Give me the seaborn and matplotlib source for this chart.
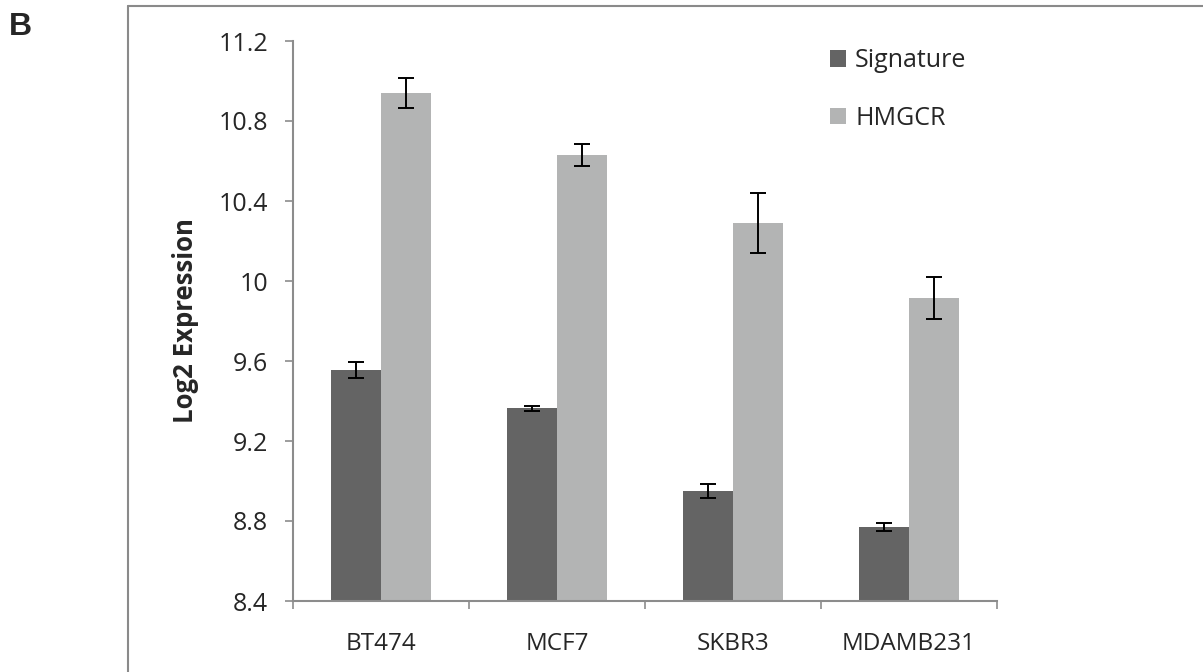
import matplotlib
matplotlib.use("Agg")
import matplotlib.pyplot as plt
import seaborn as sns
import pandas as pd
from matplotlib.lines import Line2D
from matplotlib.patches import Patch

cell_lines = ["BT474", "MCF7", "SKBR3", "MDAMB231"]
signature = [9.555, 9.364, 8.950, 8.770]
signature_err = [0.038, 0.013, 0.035, 0.020]
hmgcr = [10.940, 10.630, 10.290, 9.915]
hmgcr_err = [0.075, 0.053, 0.150, 0.105]
series = ["Signature", "HMGCR"]
yticks = [8.4, 8.8, 9.2, 9.6, 10.0, 10.4, 10.8, 11.2]
ytick_labels = ["8.4", "8.8", "9.2", "9.6", "10", "10.4", "10.8", "11.2"]

colors = {"Signature": "#646464", "HMGCR": "#b3b4b4"}
axis_grey = "#8c8c8c"

df = pd.DataFrame({
    "Cell line": cell_lines * 2,
    "Series": ["Signature"] * 4 + ["HMGCR"] * 4,
    "Value": signature + hmgcr,
})

sns.set_style("white")
plt.rcParams["font.family"] = ["Open Sans", "DejaVu Sans"]

fig = plt.figure(figsize=(12.03, 6.72), dpi=100)
ax = fig.add_axes([293 / 1203, 1 - 601 / 672, 704 / 1203, 560 / 672])

sns.barplot(data=df, x="Cell line", y="Value", hue="Series", hue_order=series,
            palette=colors, width=0.57, saturation=1, ax=ax, legend=False,
            linewidth=0)

# error bars at bar centres
for cont, err in zip(ax.containers, [signature_err, hmgcr_err]):
    xs = [b.get_x() + b.get_width() / 2 for b in cont]
    ys = [b.get_height() + b.get_y() for b in cont]
    ax.errorbar(xs, ys, yerr=err, fmt="none", ecolor="black", elinewidth=1.4,
                capsize=5.5, capthick=1.4, zorder=5)

ax.set_ylim(8.4, 11.2)
ax.set_xlim(-0.5, 3.5)
ax.set_yticks(yticks)
ax.set_yticklabels(ytick_labels)
ax.set_xlabel("")
ax.set_ylabel("Log2 Expression", fontsize=18.5, fontweight="bold", labelpad=14)

ax.tick_params(axis="y", which="major", left=True, length=6, width=1.2,
               color=axis_grey, labelsize=18, pad=12)
ax.tick_params(axis="x", which="major", bottom=False, labelsize=17.5, pad=19)
ax.set_xticks([-0.5, 0.5, 1.5, 2.5, 3.5], minor=True)
ax.tick_params(axis="x", which="minor", bottom=True, length=6, width=1.2,
               color=axis_grey)

for side in ["top", "right"]:
    ax.spines[side].set_visible(False)
for side in ["left", "bottom"]:
    ax.spines[side].set_color(axis_grey)
    ax.spines[side].set_linewidth(1.5)

handles = [Patch(facecolor=colors[s], edgecolor="none") for s in series]
ax.legend(handles, series, loc="upper left", bbox_to_anchor=(0.763, 0.987),
          frameon=False, fontsize=18, handlelength=0.65, handleheight=0.65,
          handletextpad=0.35, labelspacing=1.3, borderpad=0,
          borderaxespad=0)

# panel border (top and left edges) and panel letter
fig.add_artist(Line2D([128 / 1203, 1.0], [1 - 6 / 672, 1 - 6 / 672],
                      transform=fig.transFigure, color="#8a8a8a", lw=1.5))
fig.add_artist(Line2D([128 / 1203, 128 / 1203], [0.0, 1 - 6 / 672],
                      transform=fig.transFigure, color="#8a8a8a", lw=1.5))
fig.text(9 / 1203, 1 - 27 / 672, "B", fontsize=23, fontweight="bold",
         family=["Liberation Sans", "DejaVu Sans"], va="center", ha="left")

fig.savefig("out.png", dpi=100)
